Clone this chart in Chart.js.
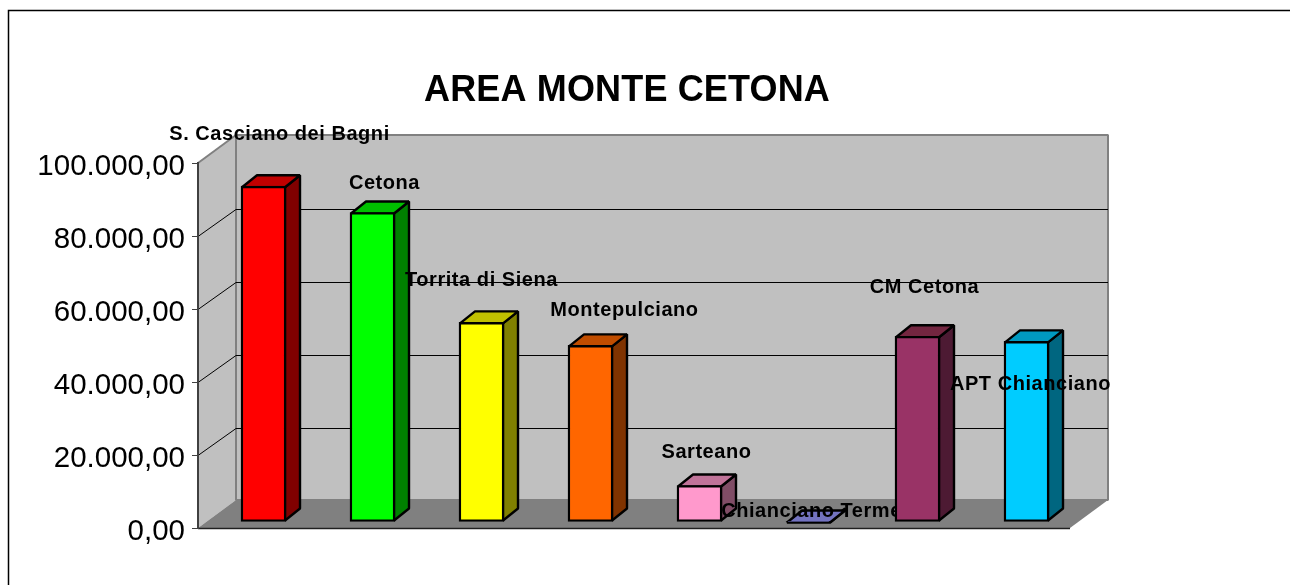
<!DOCTYPE html>
<html>
<head>
<meta charset="utf-8">
<title>AREA MONTE CETONA</title>
<style>
  body { margin: 0; background: #fff; }
  canvas { display: block; }
</style>
<script src="https://cdn.jsdelivr.net/npm/chart.js@4/dist/chart.umd.js"></script>
</head>
<body>
<canvas id="areaChart" width="1290" height="585"></canvas>
<script>
var chart_title = "AREA MONTE CETONA";
var comuni = ["S. Casciano dei Bagni", "Cetona", "Torrita di Siena", "Montepulciano", "Sarteano", "Chianciano Terme", "CM Cetona", "APT Chianciano"];
var valori = [92000, 84800, 54700, 48400, 10000, 120, 50900, 49500];
var tick_labels = ["0,00", "20.000,00", "40.000,00", "60.000,00", "80.000,00", "100.000,00"];

var FONT = '"Liberation Sans", Arial, sans-serif';
var WALL_X = 38, WALL_Y = 28;   // depth of the box
var GRID_Y = 27;                // grid lines meet the back wall a bit lower
var BAR_X = 15, BAR_Y = 12;     // depth of a bar

function poly(ctx, pts, fill, stroke, width) {
  ctx.beginPath();
  ctx.moveTo(pts[0][0], pts[0][1]);
  for (var i = 1; i < pts.length; i++) ctx.lineTo(pts[i][0], pts[i][1]);
  ctx.closePath();
  if (fill) { ctx.fillStyle = fill; ctx.fill(); }
  if (stroke) { ctx.strokeStyle = stroke; ctx.lineWidth = width; ctx.lineJoin = "bevel"; ctx.stroke(); }
}

// page frame, title, walls and floor of the box
var box3d = {
  id: "box3d",
  beforeDraw: function(chart) {
    var ctx = chart.ctx, a = chart.chartArea, y = chart.scales.y;
    ctx.save();
    ctx.fillStyle = "#fff";
    ctx.fillRect(0, 0, chart.width, chart.height);

    ctx.strokeStyle = "#000";
    ctx.lineWidth = 1.5;
    ctx.beginPath();
    ctx.moveTo(8.5, 585);
    ctx.lineTo(8.5, 10.5);
    ctx.lineTo(1290, 10.5);
    ctx.stroke();

    ctx.fillStyle = "#000";
    ctx.font = "bold 36px " + FONT;
    ctx.letterSpacing = "0.15px";
    ctx.textAlign = "center";
    ctx.textBaseline = "middle";
    ctx.fillText(chart_title, 627, 91);
    ctx.letterSpacing = "0px";

    var bx = a.left + WALL_X, bxr = a.right + WALL_X;
    var top = a.top, bot = a.bottom;
    poly(ctx, [[a.left, top], [bx, top - WALL_Y], [bx, bot - WALL_Y], [a.left, bot]], "#c0c0c0");
    poly(ctx, [[bx, top - WALL_Y], [bxr, top - WALL_Y], [bxr, bot - WALL_Y], [bx, bot - WALL_Y]], "#c0c0c0", "#808080", 2);
    poly(ctx, [[a.left, bot], [a.right, bot], [bxr, bot - WALL_Y], [bx, bot - WALL_Y]], "#808080");

    // grid lines run up the side wall and across the back wall
    ctx.strokeStyle = "#000";
    ctx.lineWidth = 1;
    y.ticks.forEach(function(t) {
      if (t.value === 0 || t.value === 100000) return;
      var py = Math.round(y.getPixelForValue(t.value)) + 0.5;
      ctx.beginPath();
      ctx.moveTo(a.left, py);
      ctx.lineTo(bx, py - GRID_Y);
      ctx.lineTo(bxr, py - GRID_Y);
      ctx.stroke();
    });
    ctx.strokeStyle = "#808080";
    ctx.lineWidth = 2;
    ctx.beginPath();
    ctx.moveTo(a.left, top);
    ctx.lineTo(bx, top - WALL_Y);
    ctx.stroke();

    // front edge of the floor
    ctx.strokeStyle = "#202020";
    ctx.lineWidth = 1.5;
    ctx.beginPath();
    ctx.moveTo(a.left, bot + 0.5);
    ctx.lineTo(a.right, bot + 0.5);
    ctx.stroke();
    ctx.restore();
  },
  // bars and their labels go one by one, a later bar can cover an earlier label
  beforeDatasetDraw: function(chart, args, opts) {
    var ctx = chart.ctx;
    ctx.save();
    ctx.translate(opts.barShiftX, -BAR_Y / 2);
    args.meta.data.forEach(function(bar, i) {
      var p = bar.getProps(["x", "y", "base", "width"], true);
      var r = p.x + p.width / 2 - 1, l = p.x - p.width / 2 + 1;
      var t = p.y + 1, b = p.base - 1;
      poly(ctx, [[r, t], [r + BAR_X, t - BAR_Y], [r + BAR_X, b - BAR_Y], [r, b]], opts.sideColors[i], "#000", 2.4);
      poly(ctx, [[l, t], [l + BAR_X, t - BAR_Y], [r + BAR_X, t - BAR_Y], [r, t]], opts.topColors[i], "#000", 2.4);
      bar.draw(ctx);

      ctx.fillStyle = "#000";
      ctx.font = "bold 20px " + FONT;
      ctx.letterSpacing = "0.55px";
      ctx.textAlign = "center";
      ctx.textBaseline = "middle";
      ctx.fillText(comuni[i], p.x + opts.labelShift[i][0], p.y + opts.labelShift[i][1]);
      ctx.letterSpacing = "0px";
    });
    ctx.restore();
    return false;
  }
};

new Chart(document.getElementById("areaChart").getContext("2d"), {
  type: "bar",
  data: {
    labels: comuni,
    datasets: [{
      data: valori,
      backgroundColor: ["#ff0000", "#00ff00", "#ffff00", "#ff6600", "#ff99cc", "#9999ff", "#993366", "#00ccff"],
      borderColor: "#000",
      borderWidth: 2.4,
      borderSkipped: false,
      barThickness: 45
    }]
  },
  options: {
    responsive: false,
    animation: false,
    layout: { padding: { left: 0, top: 163, right: 220, bottom: 57 } },
    plugins: {
      legend: { display: false },
      tooltip: { enabled: false },
      box3d: {
        barShiftX: 11,
        sideColors: ["#800000", "#008000", "#808000", "#803300", "#804d66", "#4d4d80", "#4d1a33", "#006680"],
        topColors: ["#c00000", "#00c000", "#c0c000", "#c04d00", "#c07399", "#7373c0", "#732640", "#0099c0"],
        labelShift: [[16, -52], [12, -29], [0, -42], [34, -35], [7, -33], [3, -10], [7, -49], [4, 43]]
      }
    },
    scales: {
      x: { display: false },
      y: {
        min: 0,
        max: 100000,
        afterFit: function(scale) { scale.width = 198; },
        border: { color: "#404040", width: 2 },
        grid: { drawOnChartArea: false, color: "#404040", tickLength: 6, lineWidth: 1 },
        ticks: {
          stepSize: 20000,
          padding: 7,
          color: "#000",
          font: { family: FONT, size: 29.5, lineHeight: "7px" },
          // empty first line pushes the number down a little, as in the original
          callback: function(v, i) { return ["", tick_labels[i]]; }
        }
      }
    }
  },
  plugins: [box3d]
});
</script>
</body>
</html>
